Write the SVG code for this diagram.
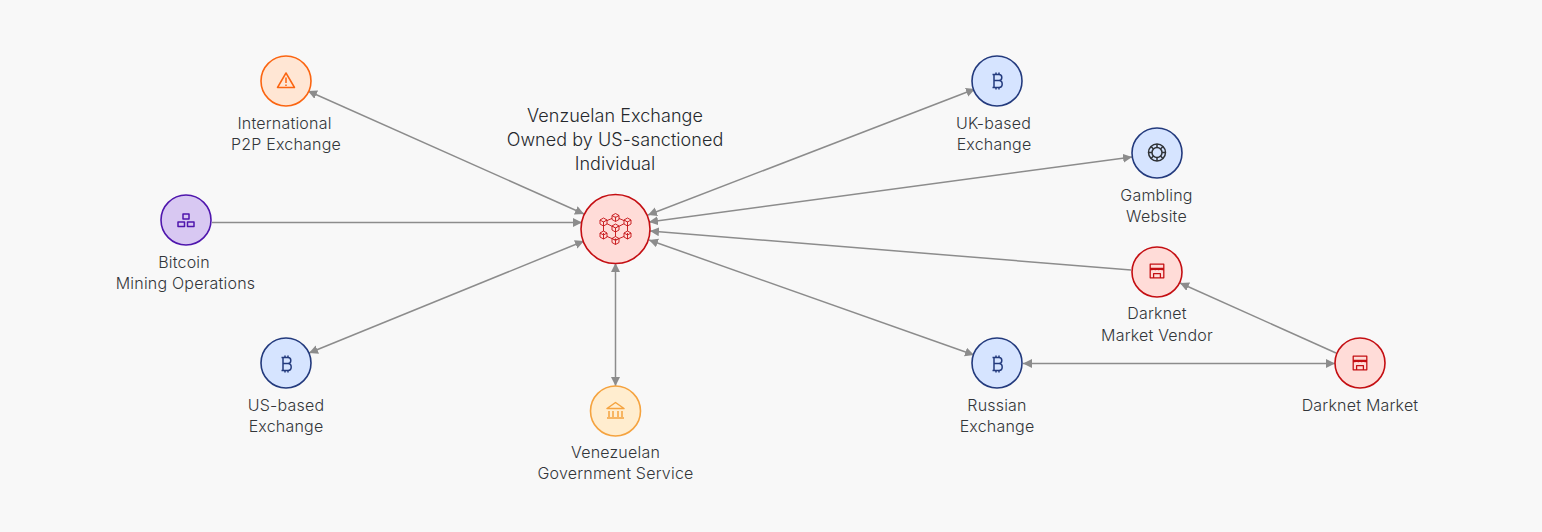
<svg xmlns="http://www.w3.org/2000/svg" width="1542" height="532" viewBox="0 0 1542 532">
<style>
text{font-family:Inter,"Liberation Sans",sans-serif;font-size:16px;font-weight:300;fill:#33363a;text-anchor:middle;letter-spacing:.2px}
.title{font-size:18px;letter-spacing:.05px;fill:#26292d}
.c{stroke:#8c8c8c;stroke-width:1.5;fill:none}
.blue{fill:#d6e4ff;stroke:#233a7d;stroke-width:1.6}
.red{fill:#ffdcd8;stroke:#c40e12;stroke-width:1.6}
.or{fill:#ffe6d4;stroke:#fb6511;stroke-width:1.6}
.pu{fill:#d8c8f2;stroke:#4f16ad;stroke-width:1.6}
.ye{fill:#ffedcf;stroke:#f5a33f;stroke-width:1.6}
.i{fill:none;stroke-width:1.5;stroke-linejoin:round}
</style>
<defs>
<marker id="a" markerUnits="userSpaceOnUse" markerWidth="10" markerHeight="10" refX="9" refY="4.500" orient="auto-start-reverse"><path d="M0 0L9 4.500L0 9Z" fill="#8c8c8c"/></marker>
<g id="btc"><path d="M-3-7V7M-1-8.500V-6M2-8.500V-6M-1 6V8.500M2 6V8.500M-4.500-6.500H2Q4.800-6.500 4.800-3.500Q4.800-.5 2-.5H-3M2-.5Q5.200-.5 5.200 3Q5.200 6.500 2 6.500H-4.500" class="i" stroke="#233a7d"/></g>
<g id="shop" class="i" stroke="#c40e12"><path d="M-8-8H8V8H-8ZM-8-3H8M-8-3Q-6 0-4-3Q-2 0 0-3Q2 0 4-3Q6 0 8-3M-4 8V3H4V8"/></g>
<g id="cube"><path d="M0-4L3.500-2V2L0 4L-3.500 2V-2ZM-3.500-2L0 0L3.500-2M0 0V4" fill="#ffdcd8" stroke="#c40e12" stroke-width=".9" stroke-linejoin="round"/></g>
</defs>
<rect width="1542" height="532" fill="#f8f8f8"/>
<g id="connectors">
<line class="c" x1="308" y1="91" x2="584" y2="214" marker-start="url(#a)" marker-end="url(#a)"/>
<line class="c" x1="212" y1="222.500" x2="582" y2="222.500" marker-end="url(#a)"/>
<line class="c" x1="309" y1="353" x2="584" y2="241" marker-start="url(#a)" marker-end="url(#a)"/>
<line class="c" x1="615.500" y1="263" x2="615.500" y2="386" marker-start="url(#a)" marker-end="url(#a)"/>
<line class="c" x1="975" y1="89" x2="648" y2="215" marker-start="url(#a)" marker-end="url(#a)"/>
<line class="c" x1="649" y1="222" x2="1132" y2="157" marker-start="url(#a)" marker-end="url(#a)"/>
<line class="c" x1="1131" y1="270" x2="650" y2="231" marker-end="url(#a)"/>
<line class="c" x1="649" y1="240" x2="974" y2="355" marker-start="url(#a)" marker-end="url(#a)"/>
<line class="c" x1="1023" y1="363.500" x2="1335" y2="363.500" marker-start="url(#a)" marker-end="url(#a)"/>
<line class="c" x1="1336" y1="353" x2="1180" y2="283" marker-end="url(#a)"/>
</g>
<g id="p2p"><circle class="or" cx="286" cy="81" r="25"/><g class="i" stroke="#fb6511"><path d="M286 73L294.500 87.500H277.500Z"/><path d="M286 77.500V83M286 84.500V86"/></g><text x="284.500" y="129">International</text><text x="286" y="150">P2P Exchange</text></g>
<g id="mining"><circle class="pu" cx="186" cy="220" r="25"/><g class="i" stroke="#4f16ad"><path d="M183 214H189V219H183ZM178 222H184.500V226.500H178ZM187.500 222H194V226.500H187.500Z"/></g><text x="184" y="268">Bitcoin</text><text x="185.500" y="289">Mining Operations</text></g>
<g id="us"><circle class="blue" cx="286" cy="363" r="25"/><use href="#btc" x="286" y="364"/><text x="286" y="411">US-based</text><text x="286" y="432">Exchange</text></g>
<g id="gov"><circle class="ye" cx="615.500" cy="411" r="25"/><g class="i" stroke="#f5a33f"><path d="M607 408.500L615.500 402.500L624 408.500ZM609 411V417M613 411V417M618 411V417M622 411V417M607 418H624"/></g><text x="615.500" y="458">Venezuelan</text><text x="615.500" y="479">Government Service</text></g>
<g id="center"><text class="title" x="615" y="122">Venzuelan Exchange</text><text class="title" x="615" y="146">Owned by US-sanctioned</text><text class="title" x="615" y="170">Individual</text><circle class="red" cx="615.500" cy="229" r="34.500"/><path d="M615.500 217L627.500 222V235L615.500 240L603.500 235V222ZM603.500 222L615.500 228L627.500 222M615.500 228V240" fill="none" stroke="#c40e12" stroke-width=".9"/><use href="#cube" x="615.500" y="217.500"/><use href="#cube" x="603.500" y="222"/><use href="#cube" x="627.500" y="222"/><use href="#cube" x="615.500" y="228"/><use href="#cube" x="603.500" y="235"/><use href="#cube" x="627.500" y="235"/><use href="#cube" x="615.500" y="240.500"/></g>
<g id="uk"><circle class="blue" cx="997" cy="81" r="25"/><use href="#btc" x="997" y="81"/><text x="993.500" y="129">UK-based</text><text x="994" y="150">Exchange</text></g>
<g id="gambling"><circle class="blue" cx="1157" cy="153" r="25"/><g class="i" stroke="#2f3236"><circle cx="1157" cy="152.500" r="8.500"/><circle cx="1157" cy="152.500" r="5"/><path d="M1157 144V147.500M1157 157.500V161M1148.500 152.500H1152M1162 152.500H1165.500M1151 146.500L1153.500 149M1160.500 156L1163 158.500M1163 146.500L1160.500 149M1153.500 156L1151 158.500"/></g><text x="1156.500" y="201">Gambling</text><text x="1156.500" y="222">Website</text></g>
<g id="vendor"><circle class="red" cx="1157" cy="272" r="25"/><use href="#shop" x="1157" y="271" transform="translate(1157 271) scale(.85) translate(-1157 -271)"/><text x="1157" y="319">Darknet</text><text x="1157" y="341">Market Vendor</text></g>
<g id="russian"><circle class="blue" cx="997" cy="363" r="25"/><use href="#btc" x="997" y="364"/><text x="997" y="411">Russian</text><text x="997" y="432">Exchange</text></g>
<g id="market"><circle class="red" cx="1360" cy="363" r="25"/><use href="#shop" x="1360" y="363" transform="translate(1360 363) scale(.85) translate(-1360 -363)"/><text x="1360" y="411">Darknet Market</text></g>
</svg>
